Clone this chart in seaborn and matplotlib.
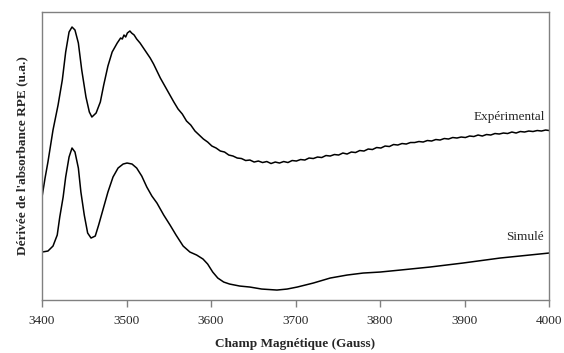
import numpy as np
import pandas as pd
import seaborn as sns
import matplotlib.pyplot as plt

# spectre experimental (champ en Gauss, intensite en u.a.)
exp_champ = [3400, 3403.6, 3407, 3413, 3419, 3424, 3428, 3432, 3435.5, 3439,
             3443, 3447, 3452, 3456, 3459, 3464, 3469, 3473, 3478, 3483,
             3489, 3493, 3495, 3497, 3499, 3501, 3504, 3506, 3509, 3512,
             3516, 3520, 3524, 3528, 3532, 3536, 3540, 3544, 3548, 3552,
             3556, 3561, 3566, 3571, 3576, 3581, 3586, 3591, 3596, 3601,
             3606, 3611, 3616, 3621, 3626, 3631, 3636, 3641, 3646, 3651,
             3656, 3661, 3666, 3671, 3676, 3681, 3686, 3691, 3696, 3701,
             3706, 3711, 3716, 3721, 3726, 3731, 3736, 3741, 3746, 3751,
             3756, 3761, 3766, 3771, 3776, 3781, 3786, 3791, 3796, 3801,
             3806, 3811, 3816, 3821, 3826, 3831, 3836, 3841, 3846, 3851,
             3856, 3861, 3866, 3871, 3876, 3881, 3886, 3891, 3896, 3901,
             3906, 3911, 3916, 3921, 3926, 3931, 3936, 3941, 3946, 3951,
             3956, 3961, 3966, 3971, 3976, 3981, 3986, 3991, 3996, 4000]
exp_val = [103, 122, 138, 170, 195, 220, 248, 268, 273, 270,
           257, 230, 203, 188, 183, 187, 198, 215, 234, 248,
           257, 262, 261, 265, 263, 267, 269, 267, 265, 261,
           257, 252, 247, 242, 236, 229, 222, 216, 210, 204,
           198, 191, 186, 179, 175, 169, 165, 161, 158, 154,
           152, 149, 148, 145, 144, 142, 141.5, 139.5, 140, 138,
           139, 137.5, 138.5, 136.5, 138, 137, 138.5, 137.5, 139.5, 139,
           140.5, 140, 142, 141.5, 143, 142.5, 144.5, 144, 145.5, 145,
           147, 146, 148, 147.5, 149.5, 149, 151, 150.5, 152.5, 152,
           154, 153.5, 155.5, 155, 156.5, 156, 157.5, 157.5, 158.5, 158,
           159.5, 159, 160.5, 160, 161.5, 161, 162.5, 162, 163, 162.5,
           164, 163.5, 165, 164, 165.5, 165, 166.5, 166, 167, 166.5,
           168, 167, 168.5, 168, 169, 168.5, 169.5, 169, 170, 169.5]

# spectre simule
sim_champ = [3400, 3407, 3413, 3418, 3421, 3425, 3428, 3432, 3435.5, 3439,
             3443, 3446, 3450, 3454, 3458, 3463, 3467, 3472, 3478, 3484,
             3490, 3496, 3500.6, 3506.5, 3512, 3518, 3524, 3530, 3536, 3544,
             3551.5, 3558.6, 3567, 3575, 3583, 3590.5, 3596, 3602, 3608, 3615,
             3622, 3634, 3646, 3660, 3678, 3690, 3702, 3721, 3741, 3761,
             3780, 3800, 3824, 3859, 3898, 3942, 4000]
sim_val = [48, 49, 54, 65, 83, 103, 123, 143, 152, 148,
           132, 108, 85, 67, 62, 64, 75, 90, 108, 123,
           132, 136, 137, 136, 132, 124, 113, 104, 97, 85,
           75, 65, 54, 48, 45, 41, 36, 28, 22, 18,
           16, 14, 13, 11, 10, 11, 13, 17, 22, 25,
           27, 28, 30, 33, 37, 42, 47]

df = pd.concat([
    pd.DataFrame({"champ": exp_champ, "val": exp_val, "type": "Expérimental"}),
    pd.DataFrame({"champ": sim_champ, "val": sim_val, "type": "Simulé"}),
])

sns.set_style("white")
plt.rcParams['font.family'] = ['Liberation Serif', 'DejaVu Serif']

fig = plt.figure(figsize=(5.64, 3.53), dpi=100)
ax = fig.add_axes([0.0745, 0.150, 0.899, 0.816])

sns.lineplot(data=df, x="champ", y="val", units="type", estimator=None,
             color="black", linewidth=1.1, sort=False, ax=ax)

ax.set_xlim(3400, 4000)
ax.set_ylim(0, 288)
ax.set_xticks(np.arange(3400, 4001, 100))
ax.set_yticks([])
ax.tick_params(axis="x", direction="out", length=5, width=1, color="#808080",
               labelsize=9.5, pad=6, bottom=True)
for s in ax.spines.values():
    s.set_color("#808080")
    s.set_linewidth(1)

ax.text(3995, 183, "Expérimental", ha="right", va="center", fontsize=9.5)
ax.text(3994, 63, "Simulé", ha="right", va="center", fontsize=9.5)

ax.set_xlabel("Champ Magnétique (Gauss)", fontsize=9.5, fontweight="bold", labelpad=8)
ax.set_ylabel("Dérivée de l'absorbance RPE (u.a.)", fontsize=9.5, fontweight="bold", labelpad=10)

fig.savefig("out.png", dpi=100)
